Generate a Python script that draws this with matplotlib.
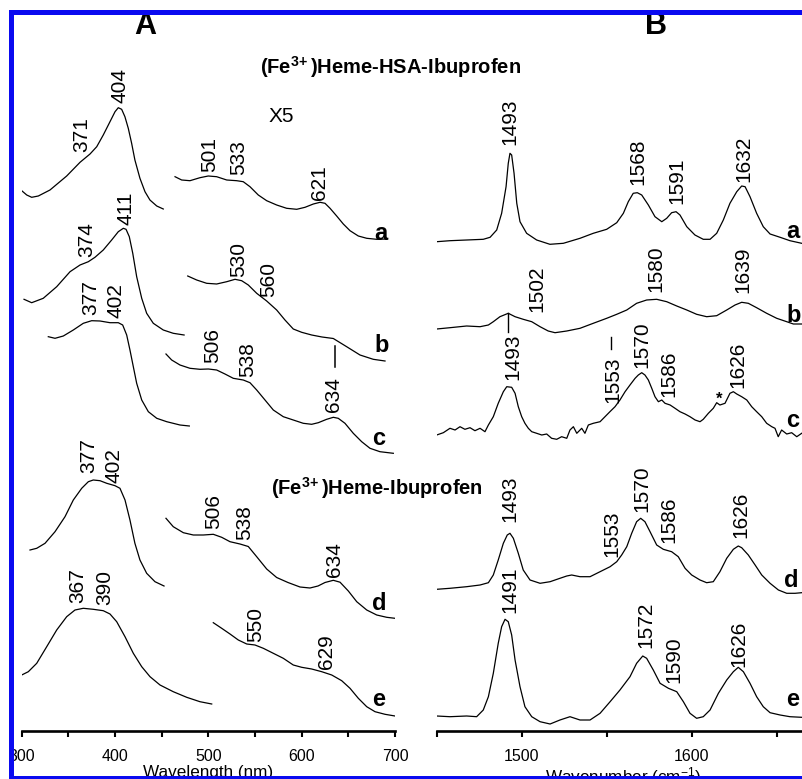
import matplotlib

matplotlib.use("Agg")
import matplotlib.pyplot as plt
from matplotlib.patches import Rectangle
from matplotlib.ticker import MultipleLocator

plt.rcParams["font.family"] = ["Liberation Sans", "DejaVu Sans"]
plt.rcParams["mathtext.default"] = "regular"

# ---------------------------------------------------------------- panel A
# UV-vis absorption, Soret region and the x5 Q-band region for traces a-e
soret_nm_a = [300, 305.4, 310.7, 317.8, 330.3, 348.2, 362.5, 373.2, 380.4, 387.4, 394.6, 400.0,
              403.5, 407.1, 410.6, 414.2, 417.8, 421.3, 426.7, 432.1, 437.4, 444.7, 451.7]
soret_a = [50, 45.7, 43.4, 44.7, 50.7, 64.7, 78.4, 86.7, 94, 105.7, 119, 129,
           133, 131.4, 124, 112.4, 97.4, 80.7, 62.4, 49, 40.7, 34.7, 31.7]
q_nm_a = [464.3, 471.4, 480.3, 491.0, 499.9, 508.9, 519.7, 530.4, 537.4, 544.6, 553.5, 562.5, 573.2, 583.9,
          594.7, 603.6, 612.5, 619.7, 625.0, 630.4, 637.5, 644.6, 651.8, 660.7, 669.7, 680.4, 691.1]
q_a = [64, 60.7, 60, 63, 64.7, 64, 60.7, 60, 59, 54, 45.7, 40, 35.7, 32.4,
       31.4, 33.4, 36.7, 38.4, 37.4, 32.4, 24.7, 16.7, 10, 4.7, 2.4, 1.4, 1.7]

soret_nm_b = [302.5, 310.7, 323.1, 337.5, 351.8, 362.5, 371.4, 378.5, 387.4, 396.4, 403.5,
              408.9, 411.8, 415.3, 419.0, 423.2, 428.6, 433.9, 441.0, 451.7, 462.4, 474.0]
soret_b = [66.4, 63, 67.4, 79, 94, 100.7, 104, 108.4, 115.7, 125.7, 134,
           137.4, 136.4, 129, 112.4, 89, 67.4, 52.4, 42.4, 35.7, 32.4, 30.7]
q_nm_b = [477.9, 487.5, 498.2, 508.9, 519.7, 528.6, 535.7, 542.8, 551.8, 562.5, 573.2,
          582.1, 591.0, 600.0, 610.7, 621.8, 633.9, 648.2, 662.5, 676.7, 689.3]
q_b = [89.7, 85.7, 82.4, 81.7, 84, 86.4, 85, 80.7, 72.4, 64.7, 55.7,
       45.7, 36.7, 33.4, 30.7, 28.7, 27.2, 19, 10.7, 6.4, 4.7]

soret_nm_c = [328.5, 335.7, 344.6, 355.3, 366.0, 375.0, 383.9, 394.6, 403.5, 408.2,
              412.5, 416.0, 419.6, 423.2, 428.6, 435.7, 444.7, 455.4, 469.6, 479.6]
soret_c = [119, 117.4, 119.7, 125.7, 132.4, 135, 134.7, 133, 133, 130.7,
           120.7, 105.7, 89, 72.4, 55.7, 44, 37.4, 34, 30.7, 29.7]
q_nm_c = [454.6, 460.7, 469.6, 480.3, 491.0, 500.0, 508.9, 517.8, 526.7, 537.4, 544.6, 551.8, 560.7, 569.6,
          580.3, 591.0, 601.7, 610.7, 617.8, 626.8, 633.9, 639.2, 646.4, 655.3, 664.3, 673.2, 683.9, 698.2]
q_c = [101.7, 95.7, 90.7, 87.4, 86.4, 86.7, 85.7, 81.7, 77.4, 75.7, 73, 65.7, 55.7, 45.7,
       39, 35.7, 32.4, 31.4, 33, 36.4, 38.4, 37.4, 32.4, 22.4, 14, 7.4, 4, 2.4]

soret_nm_d = [308.9, 316.1, 325.0, 335.7, 346.4, 355.3, 364.3, 371.4, 376.7, 383.9,
              391.1, 400.0, 405.3, 410.7, 416.0, 421.3, 426.7, 433.9, 442.8, 452.5]
soret_d = [70.7, 72.4, 77.4, 89, 104, 120.7, 132.4, 139, 140.7, 140,
           137.4, 135, 132.4, 120.7, 100.7, 77.4, 60.7, 47.4, 39, 34.7]
q_nm_d = [454.6, 462.4, 473.2, 483.9, 494.6, 505.3, 514.3, 523.2, 533.9, 542.8, 551.8, 562.5, 573.2,
          585.3, 598.2, 608.9, 617.5, 625.0, 633.9, 641.1, 650.0, 659.0, 669.7, 680.4, 691.1, 700.0]
q_d = [102.4, 94, 88, 85.7, 85.7, 86.4, 83.4, 79, 76.7, 74.2, 64, 51.7, 43.2,
       38.2, 33.7, 32.7, 34.7, 38.2, 40.4, 38.5, 29.7, 19, 10.7, 5.7, 3.4, 2.4]

soret_nm_e = [300, 307.1, 316.1, 326.8, 337.5, 348.2, 357.1, 366.0, 376.7, 387.4, 394.6,
              401.8, 410.7, 419.6, 428.6, 437.5, 448.2, 462.4, 476.8, 491.0, 503.6]
soret_e = [45.7, 49, 57.4, 74, 90.7, 104, 110.7, 112.4, 111.4, 110, 106.7,
           99, 84, 67.4, 54, 44, 35.7, 29, 23.4, 19, 16.7]
q_nm_e = [505.3, 514.3, 523.2, 532.1, 541.1, 550.0, 558.9, 569.6, 580.3, 591.0, 600.0,
          610.7, 621.5, 632.2, 642.9, 651.8, 660.7, 669.7, 678.6, 689.3, 700]
q_e = [98, 92.4, 86.7, 80.7, 76.7, 75.7, 72.4, 67.4, 62.4, 55.7, 53.4,
       51.7, 49, 45.7, 40, 32.4, 22.4, 14, 9, 6.4, 4.7]

trace_names = ["a", "b", "c", "d", "e"]
uv_offsets = [490, 365, 275, 110, 10]

# ---------------------------------------------------------------- panel B
# resonance Raman spectra a-e
rr_cm_a = [1450, 1457.8, 1467.6, 1477.4, 1481.4, 1485.3, 1488.2, 1490.8, 1492.1, 1493.1, 1494.1, 1495.5, 1497.1,
           1499.0, 1502.9, 1508.8, 1516.6, 1524.5, 1534.3, 1542.1, 1550, 1555.9, 1559.8, 1562.7, 1565.6, 1568.0,
           1570.6, 1574.5, 1578.4, 1582.4, 1585.3, 1588.2, 1590.8, 1593.1, 1597.1, 1601.9, 1606.8, 1610.8, 1614.7,
           1618.6, 1622.5, 1626.5, 1629.4, 1631.4, 1634.3, 1638.2, 1642.1, 1646.1, 1652.0, 1657.8, 1664.7]
rr_a = [4, 5, 5.7, 6.4, 8.4, 15.7, 32.4, 59, 82.4, 92.4, 90.7, 72.4, 42.4,
        24, 12.4, 5.7, 1.4, 2.4, 7.4, 12.4, 16.4, 23, 32.4, 44, 52.4, 53,
        50.7, 40.7, 29, 24, 27.4, 33, 34, 30.7, 19, 10.7, 6.4, 6.4, 12.4,
        25.7, 42.4, 54, 59.7, 59, 49, 32.4, 19, 11.7, 8.4, 5, 2.4]

rr_cm_b = [1450, 1457.8, 1467.6, 1475.5, 1480.4, 1483.3, 1487.2, 1492.1, 1496.1, 1500.9, 1505.9, 1510.8, 1515.6,
           1519.6, 1526.5, 1534.3, 1542.1, 1550, 1555.9, 1561.8, 1567.6, 1573.5, 1579.4, 1585.3, 1591.2, 1597.1,
           1602.9, 1608.8, 1614.7, 1620.6, 1625.5, 1629.4, 1633.3, 1638.2, 1644.1, 1650, 1655.9, 1659.8, 1664.7]
rr_b = [6.7, 8, 9.7, 9, 10.7, 14, 19, 22.4, 19, 16.4, 14, 9, 4.7,
        3, 4.7, 7.4, 12.4, 17.4, 21.4, 25.7, 32.4, 35.7, 36.4, 34, 29.7, 25.7,
        21.4, 19, 20, 25.7, 30.7, 33.4, 32.4, 28, 22.4, 17.4, 14, 11.7, 11.7]

rr_cm_c = [1450.0, 1453.9, 1457.8, 1460.8, 1463.7, 1466.6, 1469.6, 1472.5, 1475.5, 1478.4, 1480.4, 1483.3,
           1486.2, 1489.2, 1491.2, 1494.1, 1496.1, 1498.0, 1500.0, 1501.9, 1503.9, 1505.9, 1508.8, 1511.8,
           1514.7, 1517.6, 1520.6, 1523.5, 1526.5, 1528.4, 1530.4, 1532.4, 1535.3, 1537.2, 1539.2, 1542.1,
           1546.1, 1549.0, 1551.9, 1554.9, 1557.8, 1560.8, 1563.7, 1566.7, 1568.6, 1570.6, 1572.5, 1574.5,
           1576.5, 1578.4, 1580.4, 1582.4, 1584.3, 1587.3, 1590.2, 1593.1, 1596.1, 1599.0, 1602.0, 1604.9,
           1606.8, 1609.8, 1612.7, 1614.7, 1616.6, 1619.6, 1622.5, 1624.5, 1626.5, 1629.4, 1632.4, 1635.3,
           1638.2, 1641.2, 1644.1, 1647.1, 1649.0, 1650.9, 1652.9, 1655.9, 1658.8, 1661.8, 1664.7]
rr_c = [5.7, 8, 12.4, 10.7, 14, 11.4, 13, 10, 12.4, 9, 15.7, 24,
        37.4, 49, 54, 53.4, 47.4, 34, 24, 17.4, 12.4, 9, 7.4, 5.7,
        6.7, 2.4, 1.4, 4, 2.4, 10.7, 14, 7.4, 12.4, 7.4, 15.7, 17.4,
        19, 24, 29, 34, 40.7, 49, 55.7, 62.4, 65.7, 68, 65.7, 60.7,
        52.4, 44, 39, 40.7, 37.4, 35.7, 32.4, 29, 26.7, 24, 20.7, 19,
        21.4, 27.4, 32.4, 38, 35.7, 37.4, 47.4, 49, 46.7, 44, 40.7, 34,
        29, 24, 17.4, 14, 12.4, 4, 10.7, 6.7, 8, 4, 7.4]

rr_cm_d = [1450, 1457.8, 1467.6, 1475.5, 1480.4, 1483.3, 1486.2, 1489.2, 1491.5, 1493.1, 1495.1, 1498.0,
           1500.9, 1504.9, 1510.8, 1516.7, 1522.5, 1526.5, 1529.4, 1534.3, 1540.2, 1546.1, 1552.0, 1555.9,
           1558.8, 1561.8, 1564.7, 1567.6, 1570.0, 1572.5, 1575.5, 1579.4, 1583.3, 1588.2, 1592.1, 1596.1,
           1600.0, 1604.9, 1608.8, 1612.7, 1616.6, 1620.6, 1624.5, 1627.4, 1629.4, 1633.3, 1637.3, 1641.2,
           1646.1, 1651.0, 1655.9, 1660.8, 1664.7]
rr_d = [6.4, 7.4, 9, 10.7, 13, 20.7, 35.7, 52.4, 60.7, 62.4, 57.4, 42.4,
        25.7, 15.7, 12.4, 14, 17.4, 19.7, 20.7, 19, 19, 24, 29, 34,
        40.7, 49, 62.4, 74, 77.4, 74, 64, 50.7, 46.4, 44, 39, 27.4,
        20.7, 15.7, 13, 14, 24, 37.4, 46.4, 49.7, 48, 40.7, 30.7, 20.7,
        12.4, 5.7, 2.4, 2.4, 3]

rr_cm_e = [1450, 1457.8, 1467.6, 1473.5, 1477.4, 1480.4, 1483.3, 1486.2, 1488.2, 1490.2, 1492.1, 1494.1,
           1496.1, 1499.0, 1501.9, 1505.9, 1510.8, 1516.7, 1522.5, 1528.4, 1534.3, 1540.2, 1546.1, 1552.0,
           1557.8, 1563.7, 1567.6, 1571.2, 1573.5, 1577.4, 1581.4, 1586.3, 1591.2, 1595.1, 1599.0, 1602.9,
           1606.8, 1610.8, 1615.7, 1620.6, 1624.5, 1627.4, 1630.4, 1634.3, 1638.2, 1642.1, 1646.1, 1652.0,
           1657.8, 1664.7]
rr_e = [9.7, 9, 9.7, 9, 15.7, 29, 52.4, 82.4, 99, 106.4, 104, 90.7,
        65.7, 39, 19, 9, 4, 1.7, 5.7, 9, 5.7, 5.7, 12.4, 24,
        35.7, 49, 62.4, 69.7, 67.4, 55.7, 42.4, 37.4, 34, 24, 12.4, 7.4,
        9, 15.7, 32.4, 45.7, 54, 58.4, 54, 42.4, 29, 19, 13, 10.7,
        9, 8.4]

rr_offsets = [485, 395, 290, 135, 5]

# peak labels: text, position along x, height of label foot
uv_labels = [("404", 404.8, 627.4), ("371", 364.3, 579), ("501", 501.8, 559), ("533", 532.1, 555.7),
             ("621", 619.6, 530.7), ("374", 369.6, 473.4), ("411", 411.5, 505.7), ("530", 532.1, 454),
             ("560", 564.2, 433.4), ("377", 374, 415.7), ("402", 400.8, 412.4), ("506", 504.4, 367.4),
             ("538", 542, 354), ("634", 633.9, 319), ("377", 372.3, 257.4), ("402", 399.4, 248),
             ("506", 505.8, 201.4), ("538", 538.4, 190.7), ("634", 634.8, 154), ("367", 360.1, 127.4),
             ("390", 388.7, 125.7), ("550", 550.8, 89), ("629", 626.3, 61.4)]
rr_labels = [("1493", 1493.3, 585.7), ("1568", 1568.4, 545.7), ("1591", 1591.4, 526.7), ("1632", 1630.8, 549),
             ("1502", 1508.8, 419), ("1580", 1578.9, 439), ("1639", 1629.9, 437.4),
             ("1493", 1495.1, 350.7), ("1553", 1553.4, 327.4), ("1570", 1570.4, 362.4),
             ("1586", 1586.5, 334), ("1626", 1627.2, 342.4),
             ("1493", 1493.1, 209), ("1553", 1552.9, 174), ("1570", 1570.8, 219),
             ("1586", 1586.5, 187.4), ("1626", 1628.7, 192.4),
             ("1491", 1492.8, 117.4), ("1572", 1573.2, 82.4), ("1590", 1589.7, 47.4), ("1626", 1627.8, 64)]
uv_leaders = [(635.8, 363.7, 384.7)]
rr_leaders = [(1491.9, 399, 417.4), (1552.8, 381.4, 393.4)]
uv_letter_pos = [(685, 490.7), (685.7, 379), (682.9, 285.7), (683, 120.7), (682.1, 24.7)]
rr_letter_pos = [(1659.3, 492.4), (1659.8, 409), (1659.3, 304), (1658.8, 144), (1659.3, 24.7)]

W, H = 803, 779
AX_BOTTOM, AX_TOP = 730.7, 15.0


def fx(px):
    return px / W


def fy(py):
    return 1 - py / H


fig = plt.figure(figsize=(W / 100, H / 100), dpi=100, facecolor="white")
ax_a = fig.add_axes([fx(21.7), fy(AX_BOTTOM), (395 - 21.7) / W, (AX_BOTTOM - AX_TOP) / H])
ax_b = fig.add_axes([fx(436.7), fy(AX_BOTTOM), 372.3 / W, (AX_BOTTOM - AX_TOP) / H])
ax_a.set_xlim(300, 700)
ax_b.set_xlim(1450, 1450 + 372.3 / 1.7)

for ax in (ax_a, ax_b):
    ax.set_ylim(0, AX_BOTTOM - AX_TOP)
    ax.patch.set_alpha(0)
    for side in ("left", "right", "top"):
        ax.spines[side].set_visible(False)
    ax.spines["bottom"].set_linewidth(1.9)
    ax.set_yticks([])
    ax.xaxis.set_major_locator(MultipleLocator(100))
    ax.xaxis.set_minor_locator(MultipleLocator(50))
    ax.tick_params(axis="x", which="both", direction="out", length=4, width=1.5, color="black")
    ax.tick_params(axis="x", which="major", labelsize=11.5, pad=9)

line_kw = dict(color="black", lw=0.9, solid_joinstyle="round")
uv_soret = [(soret_nm_a, soret_a), (soret_nm_b, soret_b), (soret_nm_c, soret_c), (soret_nm_d, soret_d),
            (soret_nm_e, soret_e)]
uv_q = [(q_nm_a, q_a), (q_nm_b, q_b), (q_nm_c, q_c), (q_nm_d, q_d), (q_nm_e, q_e)]
for (sx, sy), (qx, qy), off in zip(uv_soret, uv_q, uv_offsets):
    ax_a.plot(sx, [v + off for v in sy], **line_kw)
    ax_a.plot(qx, [v + off for v in qy], **line_kw)

rr_traces = [(rr_cm_a, rr_a), (rr_cm_b, rr_b), (rr_cm_c, rr_c), (rr_cm_d, rr_d), (rr_cm_e, rr_e)]
for (rx, ry), off in zip(rr_traces, rr_offsets):
    ax_b.plot(rx, [v + off for v in ry], **line_kw)

label_kw = dict(rotation=90, ha="center", va="bottom", fontsize=15, color="black")
for ax, labels in ((ax_a, uv_labels), (ax_b, rr_labels)):
    for text, x, y in labels:
        ax.text(x, y, text, **label_kw)

for x, y0, y1 in uv_leaders:
    ax_a.plot([x, x], [y0, y1], color="black", lw=1.1)
for x, y0, y1 in rr_leaders:
    ax_b.plot([x, x], [y0, y1], color="black", lw=1.0)

for ax, spots in ((ax_a, uv_letter_pos), (ax_b, rr_letter_pos)):
    for name, (x, y) in zip(trace_names, spots):
        ax.text(x, y, name, ha="center", va="baseline", fontsize=17, fontweight="bold")

ax_a.text(577.9, 613.7, "X5", ha="center", va="center", fontsize=15)
ax_b.text(1616.2, 327.2, "*", ha="center", va="baseline", fontsize=12, fontweight="bold")

fig.text(fx(391), fy(67), r"(Fe$^{3\!+}$)Heme-HSA-Ibuprofen", ha="center", va="center",
         fontsize=14.5, fontweight="bold")
fig.text(fx(377), fy(488), r"(Fe$^{3\!+}$)Heme-Ibuprofen", ha="center", va="center",
         fontsize=14.5, fontweight="bold")
fig.text(fx(145), fy(26), "A", ha="center", va="center", fontsize=22, fontweight="bold")
fig.text(fx(656), fy(26), "B", ha="center", va="center", fontsize=22, fontweight="bold")
fig.text(fx(208.3), fy(765), "Wavelength (nm)", ha="center", va="top", fontsize=12.3)
fig.text(fx(623), fy(765), "Wavenumber (cm$^{-1}$)", ha="center", va="top", fontsize=12.3)

# blue frame around the figure (left, top and bottom edges visible)
border = "#0a0af0"
for x0, y0, w, h in ((9, 10, 5, 769), (9, 10, 794, 5), (9, 776, 794, 3)):
    fig.patches.append(Rectangle((fx(x0), fy(y0 + h)), w / W, h / H, transform=fig.transFigure,
                                 facecolor=border, edgecolor="none", zorder=10))

fig.savefig("out.png", dpi=100, facecolor="white")
